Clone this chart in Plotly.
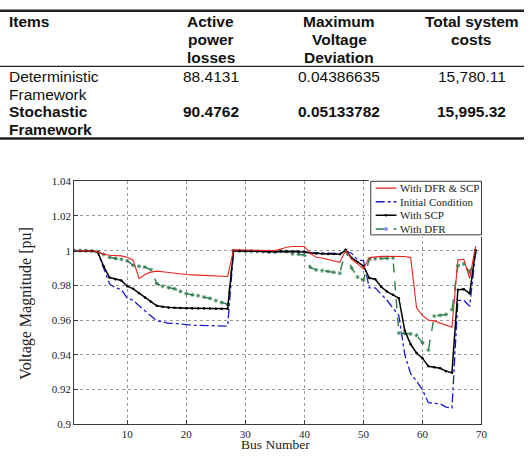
import plotly.graph_objects as go

# ---------------- data ----------------
table_items = ["Deterministic\nFramework", "Stochastic\nFramework"]
table_losses = [88.4131, 90.4762]
table_vdev = [0.04386635, 0.05133782]
table_costs = [15780.11, 15995.32]
table_headers = ["Items", "Active\npower\nlosses", "Maximum\nVoltage\nDeviation", "Total system\ncosts"]

bus = list(range(1, 70))

initial = [1.0000, 1.0000, 0.9999, 0.9998, 0.9990, 0.9901, 0.9808, 0.9786, 0.9775, 0.9725,
           0.9714, 0.9682, 0.9653, 0.9624, 0.9595, 0.9590, 0.9581, 0.9581, 0.9576, 0.9574,
           0.9569, 0.9569, 0.9568, 0.9567, 0.9566, 0.9565, 0.9565,
           0.9999, 0.9999, 0.9997, 0.9997, 0.9996, 0.9994, 0.9990, 0.9990,
           0.9999, 0.9998, 0.9996, 0.9995, 0.9995, 0.9988, 0.9986, 0.9985, 0.9985, 0.9984, 0.9984,
           0.9998, 0.9985, 0.9947, 0.9942,
           0.9785, 0.9785, 0.9747, 0.9714, 0.9669, 0.9626, 0.9401, 0.9290, 0.9248, 0.9197,
           0.9123, 0.9121, 0.9117, 0.9098, 0.9092,
           0.9713, 0.9713, 0.9679, 0.9990]

with_scp = [1.0000, 1.0000, 0.9999, 0.9998, 0.9993, 0.9910, 0.9845, 0.9835, 0.9828, 0.9795,
            0.9780, 0.9755, 0.9730, 0.9705, 0.9682, 0.9676, 0.9671, 0.9670, 0.9669, 0.9668,
            0.9667, 0.9667, 0.9666, 0.9666, 0.9665, 0.9665, 0.9665,
            0.9999, 0.9999, 0.9998, 0.9998, 0.9997, 0.9996, 0.9994, 0.9994,
            0.9998, 0.9997, 0.9995, 0.9993, 0.9992, 0.9986, 0.9983, 0.9982, 0.9981, 0.9980, 0.9979,
            1.0003, 0.9958, 0.9935, 0.9912,
            0.9842, 0.9835, 0.9792, 0.9764, 0.9745, 0.9726, 0.9540, 0.9460, 0.9410, 0.9380,
            0.9333, 0.9328, 0.9322, 0.9305, 0.9296,
            0.9774, 0.9778, 0.9754, 1.0003]

with_dfr_scp = [1.0000, 1.0000, 0.9999, 0.9998, 0.9993, 0.9980, 0.9973, 0.9971, 0.9970, 0.9962,
                0.9945, 0.9838, 0.9862, 0.9876, 0.9882, 0.9878, 0.9873, 0.9869, 0.9866, 0.9862,
                0.9860, 0.9858, 0.9856, 0.9855, 0.9853, 0.9852, 0.9851,
                1.0005, 1.0004, 1.0003, 1.0003, 1.0002, 1.0001, 1.0000, 1.0000,
                1.0010, 1.0020, 1.0024, 1.0026, 1.0024, 0.9985, 0.9962, 0.9958, 0.9950, 0.9940, 0.9933,
                1.0003, 0.9950, 0.9925, 0.9895,
                0.9960, 0.9965, 0.9967, 0.9968, 0.9968, 0.9968, 0.9966, 0.9960, 0.9670, 0.9625,
                0.9600, 0.9595, 0.9583, 0.9570, 0.9558,
                0.9947, 0.9950, 0.9840, 1.0025]

with_dfr = [1.0000, 1.0000, 0.9999, 0.9998, 0.9993, 0.9978, 0.9962, 0.9955, 0.9950, 0.9941,
            0.9915, 0.9910, 0.9905, 0.9890, 0.9810, 0.9795, 0.9787, 0.9780, 0.9765, 0.9752,
            0.9745, 0.9740, 0.9732, 0.9725, 0.9712, 0.9700, 0.9690,
            0.9999, 0.9998, 0.9997, 0.9997, 0.9996, 0.9994, 0.9992, 0.9992,
            0.9997, 0.9994, 0.9982, 0.9980, 0.9975, 0.9904, 0.9889, 0.9885, 0.9880, 0.9875, 0.9870,
            1.0003, 0.9900, 0.9848, 0.9830,
            0.9951, 0.9953, 0.9955, 0.9955, 0.9958, 0.9525, 0.9522, 0.9520, 0.9512, 0.9470,
            0.9427, 0.9623, 0.9627, 0.9632, 0.9660,
            0.9913, 0.9923, 0.9876, 0.9990]

x_ticks = [10, 20, 30, 40, 50, 60, 70]
y_ticks = [0.9, 0.92, 0.94, 0.96, 0.98, 1.0, 1.02, 1.04]
y_tick_text = ["0.9", "0.92", "0.94", "0.96", "0.98", "1", "1.02", "1.04"]

series_names = ["With DFR & SCP", "Initial Condition", "With SCP", "With DFR"]

# ---------------- styling ----------------
W, H = 530, 458
def px(x): return x / W
def py(y): return 1 - y / H

RED = "#e8231e"
BLUE = "#1a1ad0"
BLACK = "#000000"
GREEN = "#2e7d4f"
SERIF = "Liberation Serif"
SANS = "Liberation Sans"
FRAME = "#3a3a3a"

styles = {
    "With DFR & SCP": dict(line=dict(color=RED, width=1.1), mode="lines"),
    "Initial Condition": dict(line=dict(color=BLUE, width=1.3, dash="dashdot"), mode="lines"),
    "With SCP": dict(line=dict(color=BLACK, width=1.5), mode="lines+markers",
                     marker=dict(symbol="circle", size=2.5, color=BLACK)),
    "With DFR": dict(line=dict(color=GREEN, width=1.4, dash="dash"), mode="lines+markers",
                     marker=dict(symbol="asterisk-open", size=3.5, line=dict(color=GREEN, width=0.8))),
}
series_vals = {
    "With DFR & SCP": with_dfr_scp,
    "Initial Condition": initial,
    "With SCP": with_scp,
    "With DFR": with_dfr,
}

fig = go.Figure()
for name in ["Initial Condition", "With DFR", "With SCP", "With DFR & SCP"]:
    fig.add_trace(go.Scatter(x=bus, y=series_vals[name], name=name, showlegend=False,
                             xaxis="x", yaxis="y", **styles[name]))

# ---------------- hand-drawn legend on an overlay axis (pixel units) ----------------
leg_x0, leg_x1, leg_y0, leg_y1 = 375, 487, 180, 235
leg_rows = [187, 201, 215, 229]
pad = 2
fig.add_trace(go.Scatter(x=[leg_x0, leg_x1, leg_x1, leg_x0, leg_x0],
                         y=[leg_y0, leg_y0, leg_y1, leg_y1, leg_y0],
                         mode="lines", fill="toself", fillcolor="white",
                         line=dict(color=FRAME, width=1), showlegend=False,
                         xaxis="x2", yaxis="y2", hoverinfo="skip"))
for name, yr in zip(series_names, leg_rows):
    st = styles[name]
    fig.add_trace(go.Scatter(x=[380, 401], y=[yr, yr], mode="lines",
                             line=st["line"], showlegend=False, xaxis="x2", yaxis="y2",
                             hoverinfo="skip"))
    if "marker" in st:
        fig.add_trace(go.Scatter(x=[390.5], y=[yr], mode="markers",
                                 marker=st["marker"], showlegend=False, xaxis="x2", yaxis="y2",
                                 hoverinfo="skip"))
    fig.add_annotation(x=402.5, y=yr, xref="x2", yref="y2", text=name,
                       showarrow=False, xanchor="left", yanchor="middle",
                       font=dict(family=SERIF, size=11, color="#222"))

axis_common = dict(showline=True, linecolor=FRAME, linewidth=1, mirror=True,
                   ticks="inside", ticklen=4, tickcolor=FRAME,
                   showgrid=True, gridcolor="#9a9a9a", griddash="dot", gridwidth=1,
                   zeroline=False, tickfont=dict(family=SERIF, size=11, color="#222"))

fig.update_layout(
    width=W, height=H, margin=dict(l=0, r=0, t=0, b=0),
    paper_bgcolor="white", plot_bgcolor="white",
    xaxis=dict(domain=[px(75), px(487)], range=[1, 70], tickvals=x_ticks, **axis_common),
    yaxis=dict(domain=[py(429.3), py(180)], range=[0.9, 1.04], tickvals=y_ticks,
               ticktext=y_tick_text, **axis_common),
    xaxis2=dict(domain=[px(leg_x0 - pad), px(leg_x1 + pad)], range=[leg_x0 - pad, leg_x1 + pad],
                visible=False, fixedrange=True),
    yaxis2=dict(domain=[py(leg_y1 + pad), py(leg_y0 - pad)], range=[leg_y1 + pad, leg_y0 - pad],
                autorange=False, visible=False, fixedrange=True),
)

# axis titles
fig.add_annotation(x=px(279), y=py(450), xref="paper", yref="paper", text="Bus Number",
                   showarrow=False, xanchor="center", yanchor="middle",
                   font=dict(family=SERIF, size=13.5, color="#222"))
fig.add_annotation(x=px(26), y=py(305), xref="paper", yref="paper", text="Voltage Magnitude [pu]",
                   showarrow=False, textangle=-90, xanchor="center", yanchor="middle",
                   font=dict(family=SERIF, size=16, color="#222"))

# ---------------- table ----------------
TFS = 15.5
col_x = [7, 213, 343, 477]
line_h = 18.4
hdr_top = 16
for ci, h in enumerate(table_headers):
    for li, part in enumerate(h.split("\n")):
        fig.add_annotation(x=px(col_x[ci]), y=py(hdr_top + li * line_h), xref="paper", yref="paper",
                           text="<b>%s</b>" % part, showarrow=False,
                           xanchor="left" if ci == 0 else "center", yanchor="middle",
                           font=dict(family=SANS, size=TFS, color="#111"))

row_tops = [72, 108.5]
for ri in range(len(table_items)):
    bold = ri == 1
    def fmt(s):
        return "<b>%s</b>" % s if bold else s
    for li, part in enumerate(table_items[ri].split("\n")):
        fig.add_annotation(x=px(col_x[0]), y=py(row_tops[ri] + li * line_h), xref="paper", yref="paper",
                           text=fmt(part), showarrow=False, xanchor="left", yanchor="middle",
                           font=dict(family=SANS, size=TFS, color="#111"))
    vals = ["%.4f" % table_losses[ri], "%.8f" % table_vdev[ri], "{:,.2f}".format(table_costs[ri])]
    for ci, v in enumerate(vals, start=1):
        fig.add_annotation(x=px(col_x[ci]), y=py(row_tops[ri]), xref="paper", yref="paper",
                           text=fmt(v), showarrow=False, xanchor="center", yanchor="middle",
                           font=dict(family=SANS, size=TFS, color="#111"))

for ypos, wdt in [(5, 2.5), (62, 1.3), (136, 2.5)]:
    fig.add_shape(type="line", xref="paper", yref="paper", x0=0, x1=1, y0=py(ypos), y1=py(ypos),
                  line=dict(color="#222", width=wdt))

fig.write_html("out.html")
